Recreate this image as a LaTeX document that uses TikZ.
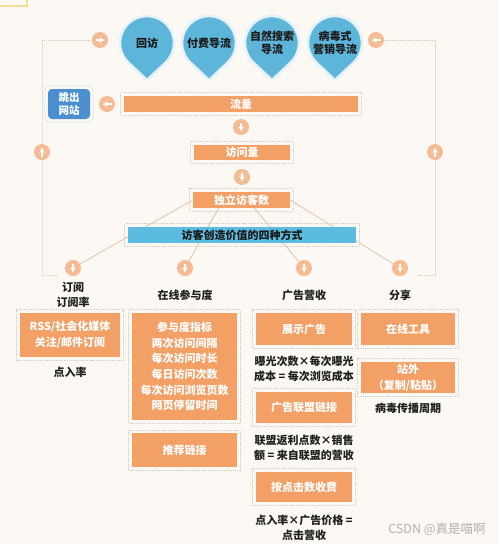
\documentclass[tikz,border=0pt]{standalone}
\usepackage{fontspec}
\setmainfont{Noto Sans CJK SC}
\usetikzlibrary{arrows, fit, positioning}
\definecolor{bgcream}{HTML}{FCF8F3}
\definecolor{boxorange}{HTML}{F3A066}
\definecolor{dotorange}{HTML}{F4BC94}
\definecolor{pinblue}{HTML}{5DB5DA}
\definecolor{barblue}{HTML}{5BBCE0}
\definecolor{jumpblue}{HTML}{4B8FD0}
\definecolor{framecol}{HTML}{D6CCC0}
\definecolor{linecol}{HTML}{E2C4AA}
\definecolor{edgeyellow}{HTML}{F2DC96}
\pgfdeclarelayer{back}
\pgfsetlayers{back,main}
\tikzstyle{obox} = [rectangle, fill=boxorange, text=white, align=center, inner sep=0pt, font=\bfseries\fontsize{11}{15.6}\selectfont]
\tikzstyle{bluebar} = [rectangle, fill=barblue, text=black!90, inner sep=0pt, font=\bfseries\fontsize{11}{13}\selectfont]
\tikzstyle{jumpbox} = [rectangle, rounded corners=4pt, fill=jumpblue, text=white, align=center, minimum width=42pt, minimum height=30pt, inner sep=0pt, font=\bfseries\fontsize{10.5}{12.5}\selectfont]
\tikzstyle{frame} = [rectangle, draw=framecol, densely dotted, line width=0.8pt, inner sep=3pt]
\tikzstyle{dot} = [circle, fill=dotorange, minimum size=16pt, inner sep=0pt]
\tikzstyle{dotarrow} = [white, line width=1.3pt, ->, >=stealth]
\tikzstyle{headtext} = [align=center, text=black!88, font=\bfseries\fontsize{11}{15}\selectfont]
\tikzstyle{pinshape} = [fill=pinblue, draw=white!82!pinblue, line width=2.5pt]
\tikzstyle{pintext} = [align=center, text=black!90, font=\bfseries\fontsize{11}{13}\selectfont]
\tikzstyle{loopline} = [draw=linecol, densely dotted, line width=1pt]
\tikzstyle{fanline} = [draw=linecol, line width=0.8pt]

\begin{document}
\begin{tikzpicture}[x=1pt, y=1pt]
\useasboundingbox (0,0) rectangle (499,-544);

% four traffic sources
\foreach \x/\t [count=\i] in {147/回访, 209/付费导流, 272/{自然搜索\\导流}, 335/{病毒式\\营销导流}} {
  \draw[pinshape] (\x,-43) ++(-46.9:27pt) arc[start angle=-46.9, end angle=226.9, radius=27pt] -- (\x,-80) -- cycle;
  \node[pintext] (pin\i) at (\x,-43) {\t};
}

% arrow dots
\foreach \n/\x/\y/\a in {dtl/100/40/0, dtr/376/40/180, djump/107/104/180, dflow/241/127/-90, dvis/242/177/-90, dleft/42/152/90, dright/435/152/90, dsub/73/268/-90, deng/185/268/-90, dad/304/268/-90, dshare/400/268/-90} {
  \node[dot] (\n) at (\x,-\y) {};
  \draw[dotarrow] (\n.center) ++(\a+180:4.5pt) -- ++(\a:9pt);
}

% main chain
\node[jumpbox] (jump) at (69,-104) {跳出\\网站};
\node[obox, minimum width=234pt, minimum height=16pt] (flow) at (241,-104) {流量};
\node[obox, minimum width=96pt, minimum height=15pt] (visits) at (242,-152.5) {访问量};
\node[obox, minimum width=97pt, minimum height=16pt] (uv) at (241.5,-200) {独立访客数};
\node[bluebar, minimum width=228pt, minimum height=16pt] (ways) at (242,-235) {访客创造价值的四种方式};

% column heads
\node[headtext] (hsub) at (73,-295) {订阅\\订阅率};
\node[headtext] (heng) at (185,-295) {在线参与度};
\node[headtext] (had) at (304,-295) {广告营收};
\node[headtext] (hshare) at (400,-295) {分享};

% subscribe
\node[obox, minimum width=100pt, minimum height=44pt] (rss) at (70,-335) {RSS/社会化媒体\\关注/邮件订阅};
\node[headtext] (ctr) at (70,-372) {点入率};

% engagement
\node[obox, minimum width=105pt, minimum height=107pt] (engage) at (184.5,-366.5) {参与度指标\\两次访问间隔\\每次访问时长\\每日访问次数\\每次访问浏览页数\\网页停留时间};
\node[obox, minimum width=105pt, minimum height=34pt, below=13pt of engage] (recom) {推荐链接};

% ad revenue
\node[obox, minimum width=96pt, minimum height=32pt] (display) at (304,-329) {展示广告};
\node[headtext] (cpm) at (304,-368.5) {曝光次数×每次曝光\\成本 = 每次浏览成本};
\node[obox, minimum width=96pt, minimum height=31pt] (union) at (304,-407.5) {广告联盟链接};
\node[headtext] (aff) at (304,-448) {联盟返利点数×销售\\额 = 来自联盟的营收};
\node[obox, minimum width=96pt, minimum height=30pt] (cpc) at (304,-487) {按点击数收费};
\node[headtext] (click) at (304,-527.5) {点入率×广告价格 =\\点击营收};

% sharing
\node[obox, minimum width=94pt, minimum height=32pt] (tools) at (408,-329) {在线工具};
\node[obox, minimum width=94pt, minimum height=31pt] (offsite) at (408,-377.5) {站外\\（复制/粘贴）};
\node[headtext] (viral) at (408,-408) {病毒传播周期};

\node[text=black!30, font=\fontsize{12.5}{14}\selectfont] (mark) at (437,-529) {CSDN @真是喵啊};

% dotted frames
\foreach \n in {flow, visits, uv, ways, rss, engage, recom, display, union, cpc, tools, offsite}
  \node[frame, fit=(\n)] {};
\node[frame, draw=jumpblue!35, rounded corners=5pt, fit=(jump)] {};

\begin{pgfonlayer}{back}
\fill[bgcream] (0,0) rectangle (499,-544);
\draw[edgeyellow, line width=1.5pt] (0,-6) -- (27,-6) -- (27,0);
\coordinate (lb) at (57,-275);
\coordinate (rb) at (418,-275);
\coordinate (ltop) at (42,-40);
\coordinate (rtop) at (435,-40);
\draw[loopline] (lb) -| (ltop) -- (dtl);
\draw[loopline] (rb) -| (rtop) -- (dtr);
\draw[fanline] (uv.west) -- (dsub);
\draw[fanline] ([xshift=-23pt]uv.south) -- (deng);
\draw[fanline] ([xshift=13pt]uv.south) -- (dad);
\draw[fanline] (uv.east) -- (dshare);
\end{pgfonlayer}
\end{tikzpicture}
\end{document}
